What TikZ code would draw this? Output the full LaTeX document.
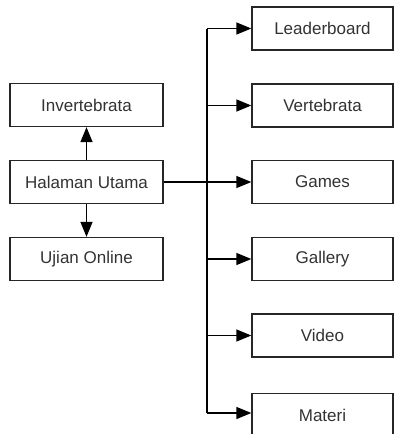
\documentclass[tikz,border=0pt]{standalone}
\usepackage{fontspec}
\setmainfont{Liberation Sans}
\usetikzlibrary{arrows.meta}

\tikzset{
  menubox/.style={draw=black!85, line width=1.3pt, fill=white, inner sep=0pt,
    minimum height=43pt, text=black!80, font=\fontsize{17}{20}\selectfont},
  leftbox/.style={menubox, minimum width=153pt},
  rightbox/.style={menubox, minimum width=141pt},
  busline/.style={line width=1.3pt},
  conn/.style={busline, -{Triangle[length=15pt,width=12pt]}}
}

\begin{document}
\begin{tikzpicture}[x=1pt,y=-1pt]
		\useasboundingbox (0,0) rectangle (403,434);

		%left column
		\node[leftbox] (inv) at (86.5,105) {Invertebrata};
		\node[leftbox] (utama) at (86.5,182) {Halaman Utama};
		\node[leftbox] (ujian) at (86.5,259) {Ujian Online};

		%right column
		\node[rightbox] (leader) at (322.5,28.5) {Leaderboard};
		\node[rightbox] (vert) at (322.5,105.5) {Vertebrata};
		\node[rightbox] (games) at (322.5,182) {Games};
		\node[rightbox] (gallery) at (322.5,259) {Gallery};
		\node[rightbox] (video) at (322.5,335.5) {Video};
		\node[rightbox] (materi) at (322.5,415) {Materi};

		%bus
		\coordinate (bustop) at (207,28.5);
		\coordinate (busbot) at (207,413);
		\draw[busline] (bustop) -- (busbot);

		%links
		\draw[conn] (utama) -- (inv);
		\draw[conn] (utama) -- (ujian);
		\draw[conn] (utama) -- (games);
		\draw[conn] (bustop) -- (leader);
		\draw[conn] (bustop |- vert.west) -- (vert);
		\draw[conn] (bustop |- gallery.west) -- (gallery);
		\draw[conn] (bustop |- video.west) -- (video);
		\draw[conn] (busbot) -- (busbot -| materi.west);
\end{tikzpicture}
\end{document}
